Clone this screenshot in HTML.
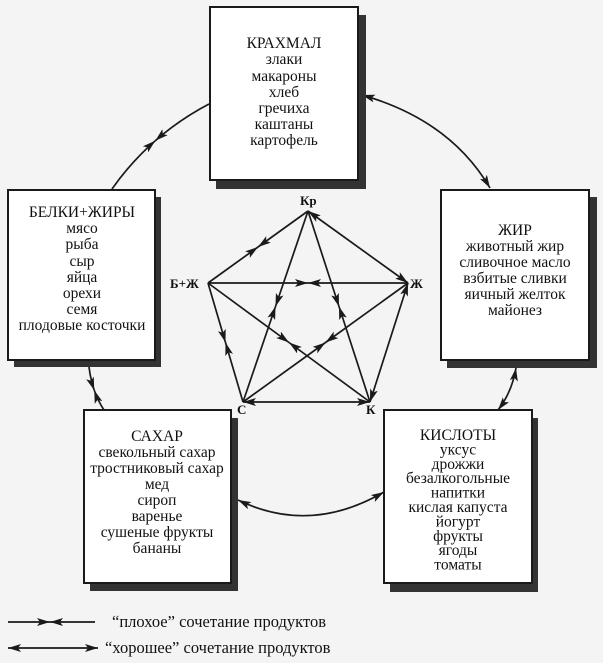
<!DOCTYPE html>
<html><head><meta charset="utf-8"><style>
html,body{margin:0;padding:0;background:#f4f4f4;}
svg{display:block;}
.t{font-family:"Liberation Serif","DejaVu Serif",serif;font-size:15.5px;fill:#111;text-anchor:middle;}
.l{font-family:"Liberation Serif",serif;font-size:13px;font-weight:bold;fill:#111;}
.ln{stroke:#1a1a1a;stroke-width:1.7;fill:none;}
</style></head><body>
<svg width="603" height="663" viewBox="0 0 603 663" xmlns="http://www.w3.org/2000/svg">
<defs>
<marker id="a" viewBox="0 0 13 8" refX="13" refY="4" markerWidth="13" markerHeight="8" markerUnits="userSpaceOnUse" orient="auto">
<path d="M0,0 L13,4 L0,8 L3,4 Z" fill="#1a1a1a"/></marker>
<marker id="s" viewBox="0 0 13 8" refX="0" refY="4" markerWidth="13" markerHeight="8" markerUnits="userSpaceOnUse" orient="auto">
<path d="M13,0 L0,4 L13,8 L10,4 Z" fill="#1a1a1a"/></marker>
</defs>
<rect width="603" height="663" fill="#f4f4f4"/>

<g class="ln" marker-end="url(#a)">
<path d="M209,104 Q179.5,119.5 155.25,140.75"/>
<path d="M112,189 Q131,162 155.25,140.75"/>
<path d="M89,367 Q90.5,379.5 94.25,390.25"/>
<path d="M104,410 Q98,401 94.25,390.25"/>
</g>
<path class="ln" d="M362,95 Q450,120 490,188" marker-start="url(#s)" marker-end="url(#a)"/>
<path class="ln" d="M516,368 Q512,392 498,410" marker-start="url(#s)" marker-end="url(#a)"/>
<path class="ln" d="M238,500 Q310,535 384,492" marker-start="url(#s)" marker-end="url(#a)"/>

<g>
<rect x="216" y="15" width="150" height="174" fill="#333"/>
<rect x="210" y="7" width="148" height="173" fill="#fff" stroke="#1a1a1a" stroke-width="2"/>
<text class="t" x="284" y="48">КРАХМАЛ</text>
<text class="t" x="284" y="64">злаки</text>
<text class="t" x="284" y="81">макароны</text>
<text class="t" x="284" y="97">хлеб</text>
<text class="t" x="284" y="113">гречиха</text>
<text class="t" x="284" y="129">каштаны</text>
<text class="t" x="284" y="145">картофель</text>
</g>
<g>
<rect x="14" y="197" width="147" height="170" fill="#333"/>
<rect x="8" y="190" width="147" height="170" fill="#fff" stroke="#1a1a1a" stroke-width="2"/>
<text class="t" x="82" y="217">БЕЛКИ+ЖИРЫ</text>
<text class="t" x="82" y="233">мясо</text>
<text class="t" x="82" y="249">рыба</text>
<text class="t" x="82" y="266">сыр</text>
<text class="t" x="82" y="282">яйца</text>
<text class="t" x="82" y="298">орехи</text>
<text class="t" x="82" y="314">семя</text>
<text class="t" x="82" y="330">плодовые косточки</text>
</g>
<g>
<rect x="447" y="197" width="150" height="171" fill="#333"/>
<rect x="441" y="190" width="148" height="170" fill="#fff" stroke="#1a1a1a" stroke-width="2"/>
<text class="t" x="515" y="235">ЖИР</text>
<text class="t" x="515" y="251">животный жир</text>
<text class="t" x="515" y="267">сливочное масло</text>
<text class="t" x="515" y="283">взбитые сливки</text>
<text class="t" x="515" y="299">яичный желток</text>
<text class="t" x="515" y="315">майонез</text>
</g>
<g>
<rect x="90" y="418" width="148" height="173" fill="#333"/>
<rect x="84" y="410" width="147" height="173" fill="#fff" stroke="#1a1a1a" stroke-width="2"/>
<text class="t" x="157" y="441">САХАР</text>
<text class="t" x="157" y="457">свекольный сахар</text>
<text class="t" x="157" y="473">тростниковый сахар</text>
<text class="t" x="157" y="489">мед</text>
<text class="t" x="157" y="505">сироп</text>
<text class="t" x="157" y="521">варенье</text>
<text class="t" x="157" y="537">сушеные фрукты</text>
<text class="t" x="157" y="553">бананы</text>
</g>
<g>
<rect x="390" y="418" width="148" height="174" fill="#333"/>
<rect x="384" y="410" width="148" height="173" fill="#fff" stroke="#1a1a1a" stroke-width="2"/>
<text class="t" x="458" y="440">КИСЛОТЫ</text>
<text class="t" x="458" y="454.4">уксус</text>
<text class="t" x="458" y="468.8">дрожжи</text>
<text class="t" x="458" y="483.2">безалкогольные</text>
<text class="t" x="458" y="497.6">напитки</text>
<text class="t" x="458" y="512">кислая капуста</text>
<text class="t" x="458" y="526.4">йогурт</text>
<text class="t" x="458" y="540.8">фрукты</text>
<text class="t" x="458" y="555.2">ягоды</text>
<text class="t" x="458" y="569.6">томаты</text>
</g>

<g class="ln" marker-end="url(#a)">
<path d="M308,211 L258,247"/><path d="M208,283 L258,247"/>
<path d="M208,283 L308,283"/><path d="M408,283 L308,283"/>
<path d="M208,283 L225.5,342.5"/><path d="M243,402 L225.5,342.5"/>
<path d="M308,211 L275.5,306.5"/><path d="M243,402 L275.5,306.5"/>
<path d="M308,211 L339,306.5"/><path d="M370,402 L339,306.5"/>
<path d="M208,283 L289,342.5"/><path d="M370,402 L289,342.5"/>
<path d="M408,283 L325.5,342.5"/><path d="M243,402 L325.5,342.5"/>
</g>
<path class="ln" d="M308,211 L408,283" marker-start="url(#s)" marker-end="url(#a)"/>
<path class="ln" d="M408,283 L370,402" marker-start="url(#s)" marker-end="url(#a)"/>
<path class="ln" d="M243,402 L370,402" marker-start="url(#s)" marker-end="url(#a)"/>

<text class="l" x="300" y="205">Кр</text>
<text class="l" x="170" y="288">Б+Ж</text>
<text class="l" x="410" y="288">Ж</text>
<text class="l" x="237" y="414">С</text>
<text class="l" x="366" y="414">К</text>

<path class="ln" d="M8,622 L50,622" marker-end="url(#a)"/>
<path class="ln" d="M95,622 L50,622" marker-end="url(#a)"/>
<text class="t" x="112" y="627" style="text-anchor:start;font-size:16.5px">“плохое” сочетание продуктов</text>
<path class="ln" d="M8,648 L98,648" marker-start="url(#s)" marker-end="url(#a)"/>
<text class="t" x="105" y="653" style="text-anchor:start;font-size:16.5px">“хорошее” сочетание продуктов</text>
</svg>
</body></html>
